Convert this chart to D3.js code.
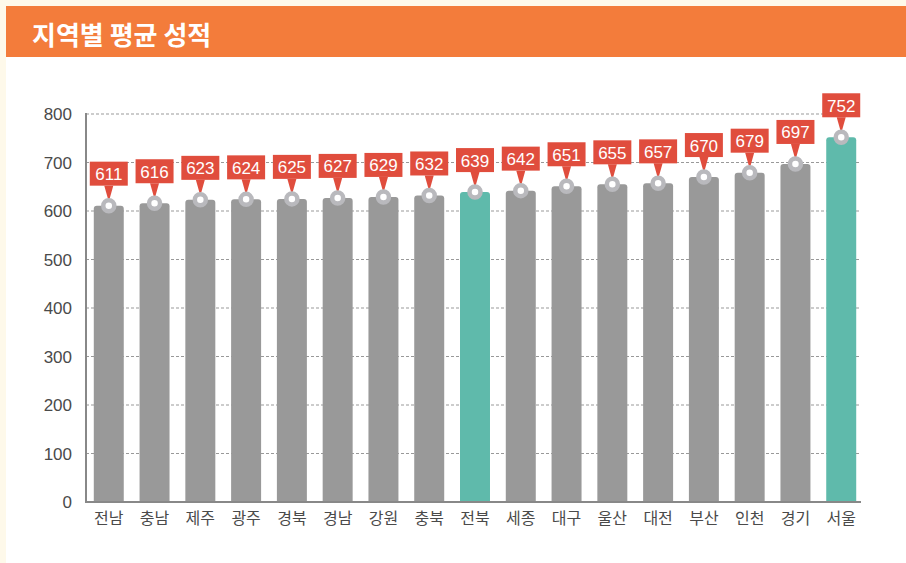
<!DOCTYPE html>
<html>
<head>
<meta charset="utf-8">
<script src="https://cdn.jsdelivr.net/npm/d3@7"></script>
<style>
  html, body { margin: 0; padding: 0; background: #fef9ea; }
  #chart { width: 906px; height: 563px; }
</style>
</head>
<body>
<div id="chart"></div>
<script>
// Data
const regions = ["전남", "충남", "제주", "광주", "경북", "경남", "강원", "충북", "전북", "세종", "대구", "울산", "대전", "부산", "인천", "경기", "서울"];
const scores = [611, 616, 623, 624, 625, 627, 629, 632, 639, 642, 651, 655, 657, 670, 679, 697, 752];
const highlighted = ["전북", "서울"];
const yTicks = [0, 100, 200, 300, 400, 500, 600, 700, 800];
const title = "지역별 평균 성적";

const data = regions.map((r, i) => ({ region: r, score: scores[i] }));

const W = 906, H = 563;
const svg = d3.select("#chart").append("svg")
  .attr("width", W).attr("height", H);

// background + panels
svg.append("rect").attr("width", W).attr("height", H).attr("fill", "#fef9ea");
svg.append("rect").attr("x", 6).attr("y", 57).attr("width", W - 6).attr("height", H - 57).attr("fill", "#ffffff");
svg.append("rect").attr("x", 6).attr("y", 6).attr("width", W - 6).attr("height", 51).attr("fill", "#f37c3b");
svg.append("text")
  .attr("x", 32).attr("y", 45)
  .attr("fill", "#fff")
  .style("font-family", "'Noto Sans CJK KR', sans-serif")
  .style("font-weight", "bold")
  .style("font-size", "26px")
  .text(title);

// scales
const x0 = 86, x1 = 864, y0 = 502, y1 = 114;
const x = d3.scaleBand().domain(regions).range([x0, x1]).paddingInner(0.345).paddingOuter(0.17);
const y = d3.scaleLinear().domain([0, 800]).range([y0, y1]);

// grid
svg.append("g")
  .selectAll("line")
  .data(yTicks.filter(d => d > 0))
  .join("line")
  .attr("x1", x0).attr("x2", 860)
  .attr("y1", d => y(d)).attr("y2", d => y(d))
  .attr("stroke", "#999").attr("stroke-width", 1)
  .attr("stroke-dasharray", "3,2");

// y tick labels
svg.append("g")
  .selectAll("text")
  .data(yTicks)
  .join("text")
  .attr("x", 72).attr("y", d => y(d) + 6)
  .attr("text-anchor", "end")
  .attr("fill", "#4a4a4a")
  .style("font-family", "'Liberation Sans', Arial, sans-serif")
  .style("font-size", "17px")
  .text(d => d);

// bars with rounded top
const bw = x.bandwidth(), rr = 3;
svg.append("g")
  .selectAll("path")
  .data(data)
  .join("path")
  .attr("d", d => {
    const bx = x(d.region), by = y(d.score);
    return `M${bx},${y0} V${by + rr} Q${bx},${by} ${bx + rr},${by} H${bx + bw - rr} Q${bx + bw},${by} ${bx + bw},${by + rr} V${y0} Z`;
  })
  .attr("fill", d => highlighted.includes(d.region) ? "#5fbaab" : "#999999");

// axes lines
svg.append("line").attr("x1", x0).attr("x2", x0).attr("y1", y1 - 1).attr("y2", y0 + 1)
  .attr("stroke", "#888").attr("stroke-width", 2);
svg.append("line").attr("x1", x0 - 1).attr("x2", 861).attr("y1", y0).attr("y2", y0)
  .attr("stroke", "#888").attr("stroke-width", 2);

// x labels
svg.append("g")
  .selectAll("text")
  .data(data)
  .join("text")
  .attr("x", d => x(d.region) + bw / 2)
  .attr("y", 524)
  .attr("text-anchor", "middle")
  .attr("fill", "#4a4a4a")
  .style("font-family", "'Noto Sans CJK KR', sans-serif")
  .style("font-size", "16px")
  .text(d => d.region);

// value callouts
const callout = svg.append("g")
  .selectAll("g")
  .data(data)
  .join("g")
  .attr("transform", d => `translate(${x(d.region) + bw / 2},${y(d.score)})`);

callout.append("path")
  .attr("d", "M-4.5,-20 L4.5,-20 L0,-4 Z")
  .attr("fill", "#e04d3d");
callout.append("rect")
  .attr("x", -19).attr("y", -44)
  .attr("width", 38).attr("height", 24)
  .attr("fill", "#e04d3d");
callout.append("circle")
  .attr("r", 5.5)
  .attr("fill", "#fff")
  .attr("stroke", "#b9b9bd").attr("stroke-width", 4.5);
callout.append("text")
  .attr("y", -25.5)
  .attr("text-anchor", "middle")
  .attr("fill", "#fff")
  .style("font-family", "'Liberation Sans', Arial, sans-serif")
  .style("font-size", "17px")
  .text(d => d.score);
</script>
</body>
</html>
